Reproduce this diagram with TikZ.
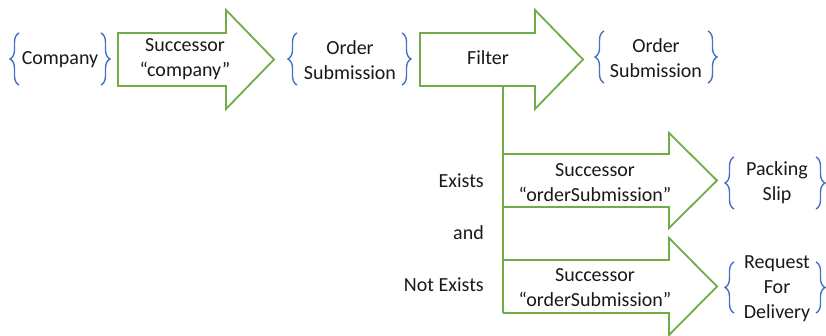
\documentclass[tikz,border=0pt]{standalone}
\usepackage{fontspec}
\setmainfont{Carlito}
\usetikzlibrary{decorations.pathreplacing}
\definecolor{arrgreen}{RGB}{112,173,71}
\definecolor{brblue}{RGB}{68,114,196}
\tikzset{
  bigarrow/.style={draw=arrgreen, line width=1.8pt, line join=miter, fill=white},
  curly/.style={draw=brblue, line width=1.4pt, decorate, decoration={brace, amplitude=9pt}},
  lbl/.style={font=\fontsize{20}{25}\selectfont, align=center, inner sep=0pt, text=black!90}
}
\begin{document}
\begin{tikzpicture}[x=1pt,y=-1pt]
\useasboundingbox (0,0) rectangle (826,336);
% top row arrows
\draw[bigarrow] (118,33) -- (226,33) -- (226,10) -- (274,59.5) -- (226,109) -- (226,86) -- (118,86) -- cycle;
\draw[bigarrow] (420,33) -- (535,33) -- (535,10) -- (583,59.5) -- (535,109) -- (535,86) -- (420,86) -- cycle;
% branch line
\coordinate (fb) at (503,86);
\coordinate (lb) at (503,313);
\draw[draw=arrgreen, line width=1.8pt] (fb) -- (lb);
% branch arrows
\draw[bigarrow, fill=none] (503,154) -- (669,154) -- (669,133) -- (717,180.5) -- (669,228) -- (669,207) -- (503,207);
\draw[bigarrow, fill=none] (503,260) -- (669,260) -- (669,238) -- (717,286.5) -- (669,335) -- (669,313) -- (503,313);
% braces
\draw[curly] (19,85) -- (19,33);
\draw[curly] (101,33) -- (101,85);
\draw[curly] (297,85) -- (297,33);
\draw[curly] (402,33) -- (402,85);
\draw[curly] (604,83) -- (604,31);
\draw[curly] (708,31) -- (708,83);
\draw[curly] (734,209) -- (734,157);
\draw[curly] (816,157) -- (816,209);
\draw[curly] (734,313) -- (734,262);
\draw[curly] (816,262) -- (816,313);
% texts
\node[lbl] (company) at (60,60) {Company};
\node[lbl] (succ1) at (185,59.5) {Successor\\“company”};
\node[lbl] (os1) at (350,60) {Order\\Submission};
\node[lbl] (filter) at (488,58) {Filter};
\node[lbl] (os2) at (656,58) {Order\\Submission};
\node[lbl, anchor=east] (exists) at (484,181) {Exists};
\node[lbl, anchor=east] (and) at (484,233) {and};
\node[lbl, anchor=east] (notex) at (484,285) {Not Exists};
\node[lbl] (succ2) at (595,182.5) {Successor\\“orderSubmission”};
\node[lbl] (succ3) at (595,287.5) {Successor\\“orderSubmission”};
\node[lbl] (ps) at (777,182.5) {Packing\\Slip};
\node[lbl] (rfd) at (777,289) {Request\\For\\Delivery};
\end{tikzpicture}
\end{document}
